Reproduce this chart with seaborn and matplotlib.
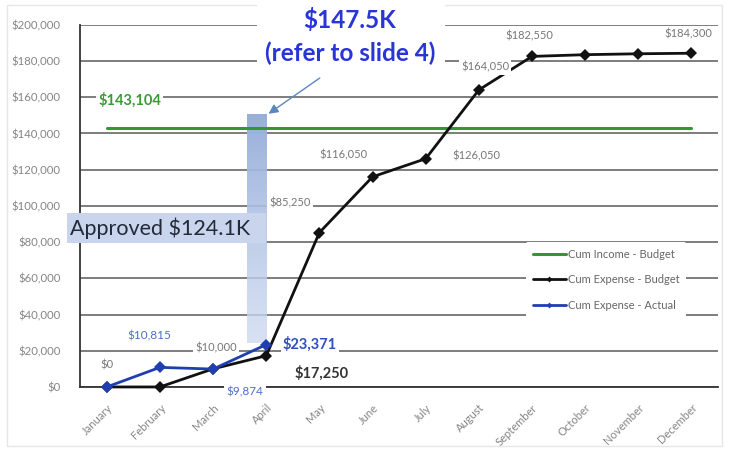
import numpy as np
import pandas as pd
import matplotlib
matplotlib.use("Agg")
import matplotlib.pyplot as plt
from matplotlib.colors import LinearSegmentedColormap
from matplotlib.patches import Rectangle
import seaborn as sns

months = ["January", "February", "March", "April", "May", "June", "July",
          "August", "September", "October", "November", "December"]
income_budget = [143104] * 12
expense_budget = [0, 0, 10000, 17250, 85250, 116050, 126050, 164050,
                  182550, 183500, 184000, 184300]
expense_actual = [0, 10815, 9874, 23371]
yticks = list(range(0, 200001, 20000))
approved_top = 150000
approved_bottom = 24000

sns.set_theme(style="white")
plt.rcParams['font.family'] = ['Lato', 'DejaVu Sans']

fig = plt.figure(figsize=(7.29, 4.51), dpi=100)
ax = fig.add_axes([0.110, 0.142, 0.875, 0.803])

x_all = np.arange(len(months))
df_inc = pd.DataFrame({"x": x_all, "v": income_budget})
df_exp = pd.DataFrame({"x": x_all, "v": expense_budget})
df_act = pd.DataFrame({"x": x_all[:len(expense_actual)], "v": expense_actual})

for yv in yticks:
    ax.axhline(yv, color="#5a5a5a", lw=1.1, zorder=1)

sns.lineplot(data=df_inc, x="x", y="v", ax=ax, color="#2f9a2f", lw=2.2,
             label="Cum Income - Budget", zorder=3)
sns.lineplot(data=df_exp, x="x", y="v", ax=ax, color="#111111", lw=2.0,
             marker="D", markersize=6, markeredgewidth=0,
             label="Cum Expense - Budget", zorder=4, clip_on=False)
sns.lineplot(data=df_act, x="x", y="v", ax=ax, color="#1f3fb0", lw=2.0,
             marker="D", markersize=6, markeredgewidth=0,
             label="Cum Expense - Actual", zorder=5, clip_on=False)

# gradient bar (147.5K)
grad = LinearSegmentedColormap.from_list("g", [(0.80, 0.85, 0.94, 0.75), (0.60, 0.69, 0.86, 1.0)])
img = np.linspace(0, 1, 100).reshape(-1, 1)
ax.imshow(img, cmap=grad, origin="lower", aspect="auto",
          extent=(2.63, 2.99, approved_bottom, approved_top), zorder=2)

# Approved box
ax.add_patch(Rectangle((-0.75, 79500), 3.74, 16500, facecolor="#c9d5ec",
                       edgecolor="none", zorder=6, clip_on=False))
ax.text(-0.70, 87700, "Approved $124.1K", fontsize=15.5, color="#222a3a",
        va="center", ha="left", zorder=7)

ax.set_xlim(-0.5, 11.5)
ax.set_ylim(0, 200000)
ax.set_yticks(yticks)
ax.set_yticklabels([f"${v:,.0f}" for v in yticks], fontsize=8.2, color="#858585")
ax.set_xticks(x_all)
ax.set_xticklabels(months, rotation=45, ha="right", rotation_mode="anchor",
                   fontsize=8, color="#858585")
ax.tick_params(axis="y", length=0, pad=14)
ax.tick_params(axis="x", length=0, pad=11)
ax.set_xlabel("")
ax.set_ylabel("")
for s in ["top", "right"]:
    ax.spines[s].set_visible(False)
ax.spines["left"].set_color("#333333")
ax.spines["bottom"].set_color("#333333")
ax.spines["left"].set_linewidth(1.3)
ax.spines["bottom"].set_linewidth(1.3)

wb = dict(facecolor="white", edgecolor="none", pad=1.5)
grey = "#777777"
lblue = "#4d6ec4"
# data labels
ax.text(0, 12000, "$0", ha="center", va="center", fontsize=8, color=grey, bbox=wb, zorder=8)
ax.text(0.8, 28000, "$10,815", ha="center", va="center", fontsize=8.5, color=lblue, bbox=wb, zorder=8)
ax.text(2.05, 21500, "$10,000", ha="center", va="center", fontsize=8, color=grey, bbox=wb, zorder=8)
ax.text(2.6, -2500, "$9,874", ha="center", va="center", fontsize=8.5, color=lblue, bbox=wb, zorder=8, clip_on=False)
ax.text(3.82, 23371, "$23,371", ha="center", va="center", fontsize=10.5, color="#2f4fbf",
        fontweight="bold", bbox=wb, zorder=8)
ax.text(4.05, 7500, "$17,250", ha="center", va="center", fontsize=10.5, color="#333333",
        fontweight="bold", bbox=wb, zorder=8)
ax.text(3.45, 101500, "$85,250", ha="center", va="center", fontsize=8, color=grey, bbox=wb, zorder=8)
ax.text(4.45, 128000, "$116,050", ha="center", va="center", fontsize=8, color=grey, bbox=wb, zorder=8)
ax.text(6.95, 127500, "$126,050", ha="center", va="center", fontsize=8, color=grey, bbox=wb, zorder=8)
ax.text(7.12, 176500, "$164,050", ha="center", va="center", fontsize=8, color=grey, bbox=wb, zorder=8)
ax.text(7.95, 194000, "$182,550", ha="center", va="center", fontsize=8, color=grey, bbox=wb, zorder=8)
ax.text(10.95, 195000, "$184,300", ha="center", va="center", fontsize=8, color=grey, bbox=wb, zorder=8)
ax.text(0.43, 158500, "$143,104", ha="center", va="center", fontsize=10.5, color="#3a9b35",
        fontweight="bold", bbox=wb, zorder=8)

# title annotation
fig.text(0.480, 0.955, "$147.5K", ha="center", va="center", fontsize=17.5, fontweight="bold",
         color="#2a35d8", zorder=9)
fig.text(0.480, 0.882, "(refer to slide 4)", ha="center", va="center", fontsize=17.5,
         fontweight="bold", color="#2a35d8", zorder=9)
fig.patches.append(Rectangle((0.352, 0.845), 0.258, 0.155, transform=fig.transFigure,
                             facecolor="white", edgecolor="none", zorder=5))
ax.annotate("", xy=(3.0, approved_top), xytext=(4.05, 171500),
            arrowprops=dict(arrowstyle="-|>", color="#5b86c0", lw=1.0, mutation_scale=14),
            zorder=9)

leg = ax.legend(loc="upper left", bbox_to_anchor=(0.69, 0.415), frameon=True,
                fontsize=8, handlelength=3.0, handletextpad=0.2, labelspacing=1.3,
                borderpad=0.6, markerscale=0.5)
leg.get_frame().set_facecolor("white")
leg.get_frame().set_edgecolor("none")
leg.get_frame().set_alpha(1.0)
for t in leg.get_texts():
    t.set_color("#666666")
leg.set_zorder(10)

# light outer frame
fig.patches.append(Rectangle((0.01, 0.01), 0.98, 0.978, transform=fig.transFigure,
                             facecolor="none", edgecolor="#e6e6e6", lw=1.0, zorder=0))

fig.savefig("out.png", dpi=100)
